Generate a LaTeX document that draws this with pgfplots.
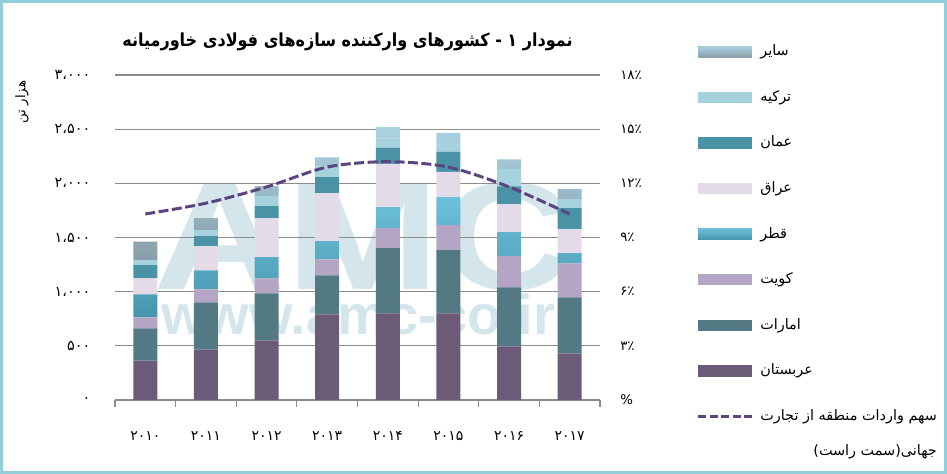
\documentclass[border=0pt]{standalone}
\usepackage{fontspec}
\setmainfont{DejaVu Sans}
\newfontfamily\arabicfont[Script=Arabic]{DejaVu Sans}
\newfontfamily\wmfont{Liberation Sans}
\TeXXeTstate=1
\usepackage{pgfplots}
\pgfplotsset{compat=1.18}
\usepackage{pgfplotstable}

\definecolor{arabia}{HTML}{6B5B77}
\definecolor{uae}{HTML}{537A83}
\definecolor{kuwait}{HTML}{B5A5C5}
\definecolor{qatarT}{HTML}{6CC0DA}
\definecolor{qatarB}{HTML}{4795AD}
\definecolor{iraq}{HTML}{E3DCE8}
\definecolor{oman}{HTML}{4A92A6}
\definecolor{turkey}{HTML}{A6D2DD}
\definecolor{otherT}{HTML}{A9D3E2}
\definecolor{otherB}{HTML}{8A9EA8}
\definecolor{linecol}{HTML}{5B4580}
\definecolor{gridgray}{HTML}{8C8C8C}
\definecolor{wm}{HTML}{D4E6EC}
\definecolor{frame}{HTML}{92CDDC}

\pgfplotstableread{
x arabia uae kuwait qatar iraq oman turkey other share
0 364 296 102 213 148 121 46 173 10.3
1 466 435 120 176 223 92 56 111 10.9
2 549 435 139 195 361 111 92 93 11.8
3 790 361 148 167 444 148 99 83 12.9
4 799 602 185 195 398 148 86 105 13.2
5 799 584 231 259 232 185 92 84 12.9
6 494 546 287 222 259 164 160 90 11.8
7 429 518 315 93 222 194 84 92 10.3
}\data

\begin{document}
\begin{tikzpicture}
\useasboundingbox (0,0) rectangle (710.25pt,355.5pt);
% watermark
\node[inner sep=0pt, anchor=base, text=wm, font=\wmfont\bfseries\fontsize{115}{115}\selectfont, xscale=1.2, text depth=0pt] at (272.6pt,138pt) {AMC};
\node[inner sep=0pt, anchor=base, text=wm, font=\wmfont\bfseries\fontsize{42}{42}\selectfont, text height=22pt] at (268.9pt,104.25pt) {www.amc-co.ir};

\begin{axis}[
  at={(86.25pt,55.5pt)}, anchor=south west,
  scale only axis, width=363.75pt, height=243.75pt,
  xmin=-0.5, xmax=7.5, ymin=0, ymax=3000,
  ybar stacked, bar width=18pt,
  axis x line*=bottom, axis y line*=left,
  y axis line style={draw=none},
  x axis line style={draw=gridgray, line width=0.9pt},
  ymajorgrids, grid style={draw=gridgray, line width=0.9pt},
  ytick={0,500,1000,1500,2000,2500,3000},
  yticklabels={۰,۵۰۰,۱،۰۰۰,۱،۵۰۰,۲،۰۰۰,۲،۵۰۰,۳،۰۰۰},
  major y tick style={draw=none},
  yticklabel style={font=\arabicfont\fontsize{10.8}{12}\selectfont, xshift=-15pt},
  xtick={0,...,7},
  xticklabels={۲۰۱۰,۲۰۱۱,۲۰۱۲,۲۰۱۳,۲۰۱۴,۲۰۱۵,۲۰۱۶,۲۰۱۷},
  major x tick style={draw=none},
  minor xtick={-0.5,0.5,...,7.5},
  minor x tick style={draw=gridgray, line width=0.9pt},
  xtick align=outside, minor tick length=5.3pt,
  xticklabel style={font=\arabicfont\fontsize{10.5}{12}\selectfont, yshift=-16pt},
]
\addplot[forget plot, fill=arabia, draw=none] table[x=x,y=arabia]{\data};
\addplot[forget plot, fill=uae, draw=none] table[x=x,y=uae]{\data};
\addplot[forget plot, fill=kuwait, draw=none] table[x=x,y=kuwait]{\data};
\addplot[forget plot, top color=qatarT, bottom color=qatarB, draw=none] table[x=x,y=qatar]{\data};
\addplot[forget plot, fill=iraq, draw=none] table[x=x,y=iraq]{\data};
\addplot[forget plot, fill=oman, draw=none] table[x=x,y=oman]{\data};
\addplot[forget plot, fill=turkey, draw=none] table[x=x,y=turkey]{\data};
\addplot[forget plot, top color=otherT, bottom color=otherB, draw=none] table[x=x,y=other]{\data};
\end{axis}

\begin{axis}[
  at={(86.25pt,55.5pt)}, anchor=south west,
  scale only axis, width=363.75pt, height=243.75pt,
  xmin=-0.5, xmax=7.5, ymin=0, ymax=18,
  axis x line=none, axis y line*=right,
  y axis line style={draw=none},
  ytick={0,3,6,9,12,15,18},
  yticklabels={\%,۳٪,۶٪,۹٪,۱۲٪,۱۵٪,۱۸٪},
  major tick length=0pt,
  yticklabel style={font=\arabicfont\fontsize{10}{12}\selectfont, xshift=11.7pt},
  legend image code/.code={\fill[#1, draw=none] (0pt,-4.25pt) rectangle (40pt,4.25pt);},
  legend style={at={(1.2,1.0963)}, anchor=north west, draw=none, fill=none,
    inner sep=0pt, outer sep=0pt, row sep=22.2pt, column sep=5.25pt,
    font=\arabicfont\fontsize{10.8}{12}\selectfont,
    nodes={inner sep=0pt, text height=9pt, text depth=3pt}},
  legend cell align=left,
]
\addlegendimage{top color=otherT, bottom color=otherB}
\addlegendentry{سایر}
\addlegendimage{fill=turkey}
\addlegendentry{ترکیه}
\addlegendimage{fill=oman}
\addlegendentry{عمان}
\addlegendimage{fill=iraq}
\addlegendentry{عراق}
\addlegendimage{top color=qatarT, bottom color=qatarB}
\addlegendentry{قطر}
\addlegendimage{fill=kuwait}
\addlegendentry{کویت}
\addlegendimage{fill=uae}
\addlegendentry{امارات}
\addlegendimage{fill=arabia}
\addlegendentry{عربستان}
\addplot[smooth, linecol, line width=2.25pt, dash pattern=on 7.5pt off 2.6pt,
  legend image code/.code={\draw[linecol, line width=2.25pt, dash pattern=on 6pt off 2.6pt] (0pt,0pt) -- (40pt,0pt);}]
  table[x=x,y=share]{\data};
\addlegendentry{\begin{tabular}[t]{@{}r@{}}\beginR سهم واردات منطقه از تجارت\endR\\[14pt]\beginR جهانی(سمت راست)\endR\end{tabular}}
\end{axis}

% title
\node[font=\arabicfont\bfseries\fontsize{13.5}{15}\selectfont, inner sep=0pt, xscale=0.89] at (260.6pt,324pt) {\beginR نمودار ۱ - کشورهای وارکننده سازه‌های فولادی خاورمیانه\endR};
% y label
\node[font=\arabicfont\fontsize{10}{12}\selectfont, inner sep=0pt, rotate=90] at (16.5pt,279pt) {\beginR هزار تن\endR};
% frame
\draw[frame, line width=2.25pt] (1.125pt,1.125pt) rectangle (709.125pt,354.375pt);
\end{tikzpicture}
\end{document}
